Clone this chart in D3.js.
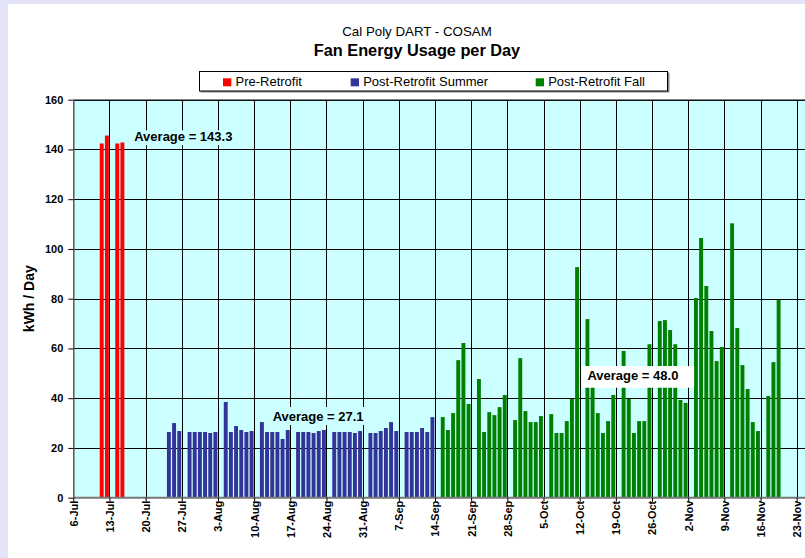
<!DOCTYPE html>
<html><head><meta charset="utf-8">
<script src="https://cdn.jsdelivr.net/npm/d3@7"></script>
<style>
body{margin:0;background:#fff}
svg{display:block;font-family:"Liberation Sans",Arial,sans-serif}
</style>
</head><body><svg id="c" width="805" height="558"></svg>
<script>
// ---------- data (one entry per day, null = no reading) ----------
const preStart = "2009-07-11";
const preValues = [142.4, 145.6, null, 142.4, 142.8];

const summerStart = "2009-07-24";
const summerValues = [
  26.4, 30.0, 26.8, null,
  26.4, 26.4, 26.4, 26.4, 26.0, 26.4, null,
  38.5, 26.4, 28.8, 27.2, 26.4, 26.8, null,
  30.4, 26.4, 26.4, 26.4, 23.6, 27.2, null,
  26.4, 26.4, 26.4, 26.0, 26.8, 27.2, null,
  26.4, 26.4, 26.4, 26.4, 26.0, 26.8, null,
  26.0, 26.0, 26.8, 28.0, 30.4, 26.8, null,
  26.4, 26.4, 26.4, 28.0, 26.4, 32.4
];

const fallStart = "2009-09-15";
const fallValues = [
  32.4, 27.2, 34.0, 55.3, 62.2, 37.7, null,
  47.7, 26.4, 34.4, 33.2, 36.4, 41.3, null,
  31.2, 56.1, 34.8, 30.4, 30.4, 32.8, null,
  33.6, 26.0, 26.0, 30.8, 39.7, 92.7, null,
  71.8, 44.5, 34.0, 26.0, 30.8, 41.3, null,
  59.0, 39.7, 26.0, 30.8, 30.8, 61.7, null,
  71.0, 71.4, 67.4, 61.7, 39.3, 38.1, null,
  80.3, 104.4, 85.1, 67.0, 54.9, 60.6, null,
  110.3, 68.2, 53.3, 43.7, 30.4, 26.8, null,
  40.9, 54.5, 79.5
];

const seriesNames = ["Pre-Retrofit", "Post-Retrofit Summer", "Post-Retrofit Fall"];
const seriesColors = ["#FF0000", "#333399", "#008000"];
const averageTexts = ["Average = 143.3", "Average = 27.1", "Average = 48.0"];
const yTickValues = [0, 20, 40, 60, 80, 100, 120, 140, 160];
const axisStart = "2009-07-06";
const axisEnd = "2009-11-23";
const subtitle = "Cal Poly DART - COSAM";
const title = "Fan Energy Usage per Day";
const yTitle = "kWh / Day";

// ---------- build ----------
const svg = d3.select("#c");
const W = 805, H = 558;
const parse = d3.utcParse("%Y-%m-%d");
const dStart = parse(axisStart), dEnd = parse(axisEnd);

// page background
svg.append("rect").attr("width", W).attr("height", H).attr("fill", "#E4E4F8");
svg.append("rect").attr("x", 8).attr("y", 4).attr("width", W - 8).attr("height", H - 4).attr("fill", "#fff");

const x = d3.scaleUtc().domain([dStart, dEnd]).range([73.3, 796.7]);
const y = d3.scaleLinear().domain([0, 160]).range([497.7, 99.7]);
const dayW = x(d3.utcDay.offset(dStart, 1)) - x(dStart);
const barW = dayW * 0.76;

// plot background
svg.append("rect").attr("x", x(dStart)).attr("y", y(160))
  .attr("width", W - x(dStart)).attr("height", y(0) - y(160)).attr("fill", "#CCFFFF");

const weekTicks = d3.utcDay.range(dStart, d3.utcDay.offset(dEnd, 1), 7);

// grid
const grid = svg.append("g");
grid.selectAll("line.h").data(yTickValues.filter(v => v > 0)).join("line")
  .attr("x1", x(dStart)).attr("x2", W)
  .attr("y1", d => Math.round(y(d)) + 0.5).attr("y2", d => Math.round(y(d)) + 0.5)
  .attr("stroke", "#000").attr("stroke-width", 1);
grid.selectAll("line.v").data(weekTicks.slice(1)).join("line")
  .attr("x1", d => Math.round(x(d)) + 0.5).attr("x2", d => Math.round(x(d)) + 0.5)
  .attr("y1", y(160)).attr("y2", y(0))
  .attr("stroke", "#000").attr("stroke-width", 1);

// bars
function records(start, vals) {
  const s = parse(start);
  return vals.map((v, i) => ({ date: d3.utcDay.offset(s, i), value: v })).filter(d => d.value != null);
}
const allSeries = [records(preStart, preValues), records(summerStart, summerValues), records(fallStart, fallValues)];
allSeries.forEach((recs, si) => {
  svg.append("g").selectAll("rect").data(recs).join("rect")
    .attr("x", d => x(d.date) + (dayW - barW) / 2)
    .attr("width", barW)
    .attr("y", d => y(d.value))
    .attr("height", d => y(0) - y(d.value))
    .attr("fill", seriesColors[si]);
});

// axes
const xAxis = svg.append("g").attr("transform", `translate(0,${y(0)})`)
  .call(d3.axisBottom(x).tickValues(weekTicks).tickFormat(d3.utcFormat("%-d-%b")).tickSize(4).tickSizeOuter(0));
xAxis.select(".domain").attr("stroke", "#777").attr("stroke-width", 2).attr("d", `M${x(dStart)},0H${W}`);
xAxis.selectAll(".tick line").attr("stroke", "#000");
xAxis.selectAll(".tick text")
  .attr("transform", "rotate(-90)")
  .attr("x", -3).attr("y", 0).attr("dy", "0.36em")
  .style("text-anchor", "end")
  .attr("font-size", 11).attr("font-weight", "bold").attr("fill", "#000")
  .attr("font-family", '"Liberation Sans",Arial,sans-serif');

const yAxis = svg.append("g").attr("transform", `translate(${x(dStart)},0)`)
  .call(d3.axisLeft(y).tickValues(yTickValues).tickFormat(d3.format("d")).tickSize(5).tickSizeOuter(0));
yAxis.select(".domain").attr("stroke", "#555").attr("stroke-width", 1.5);
yAxis.selectAll(".tick line").attr("stroke", "#000");
yAxis.selectAll(".tick text").attr("x", -10).attr("font-size", 11).attr("font-weight", "bold")
  .attr("fill", "#000").attr("font-family", '"Liberation Sans",Arial,sans-serif');

// top border of plot
svg.append("line").attr("x1", x(dStart)).attr("x2", W).attr("y1", y(160)).attr("y2", y(160))
  .attr("stroke", "#666").attr("stroke-width", 1);

// average labels
const avgAnchors = [
  { date: d3.utcHour.offset(parse("2009-07-17"), 19), value: 143.3, fill: "#CCFFFF", padL: 3, padR: 3, padT: 11, padB: 4 },
  { date: d3.utcHour.offset(parse("2009-08-13"), 14), value: 30.8, fill: "#CCFFFF", padL: 4, padR: 4, padT: 14, padB: 4 },
  { date: d3.utcHour.offset(parse("2009-10-13"), 12), value: 47.3, fill: "#FFFFFF", padL: 5.6, padR: 15.7, padT: 14, padB: 7.7 }
];
avgAnchors.forEach((a, i) => {
  const g = svg.append("g");
  const bg = g.append("rect").attr("fill", a.fill);
  const t = g.append("text").attr("x", x(a.date)).attr("y", y(a.value))
    .attr("font-size", 13).attr("font-weight", "bold").attr("fill", "#000")
    .text(averageTexts[i]);
  const bb = t.node().getBBox();
  bg.attr("x", bb.x - a.padL).attr("width", bb.width + a.padL + a.padR)
    .attr("y", y(a.value) - a.padT).attr("height", a.padT + a.padB);
});

// titles
svg.append("text").attr("x", 417).attr("y", 35.7).attr("text-anchor", "middle")
  .attr("font-size", 13.3).attr("fill", "#000").text(subtitle);
svg.append("text").attr("x", 417).attr("y", 56).attr("text-anchor", "middle")
  .attr("font-size", 16.3).attr("font-weight", "bold").attr("fill", "#000").text(title);

// y title
svg.append("text").attr("transform", `translate(33.5,${(y(0) + y(160)) / 2}) rotate(-90)`)
  .attr("text-anchor", "middle").attr("font-size", 14).attr("font-weight", "bold").attr("fill", "#000")
  .text(yTitle);

// legend
const lg = svg.append("g");
lg.append("rect").attr("x", 200.5).attr("y", 72.5).attr("width", 469).attr("height", 20).attr("fill", "#888");
lg.append("rect").attr("x", 199.5).attr("y", 71.5).attr("width", 468).attr("height", 19.5)
  .attr("fill", "#fff").attr("stroke", "#000").attr("stroke-width", 1);
const legX = [223, 350.7, 535.7];
seriesNames.forEach((n, i) => {
  lg.append("rect").attr("x", legX[i]).attr("y", 78.3).attr("width", 8.3).attr("height", 8)
    .attr("fill", seriesColors[i]);
  lg.append("text").attr("x", legX[i] + 12.5).attr("y", 86.4).attr("font-size", 13)
    .attr("fill", "#000").text(n);
});
</script>
</body></html>
